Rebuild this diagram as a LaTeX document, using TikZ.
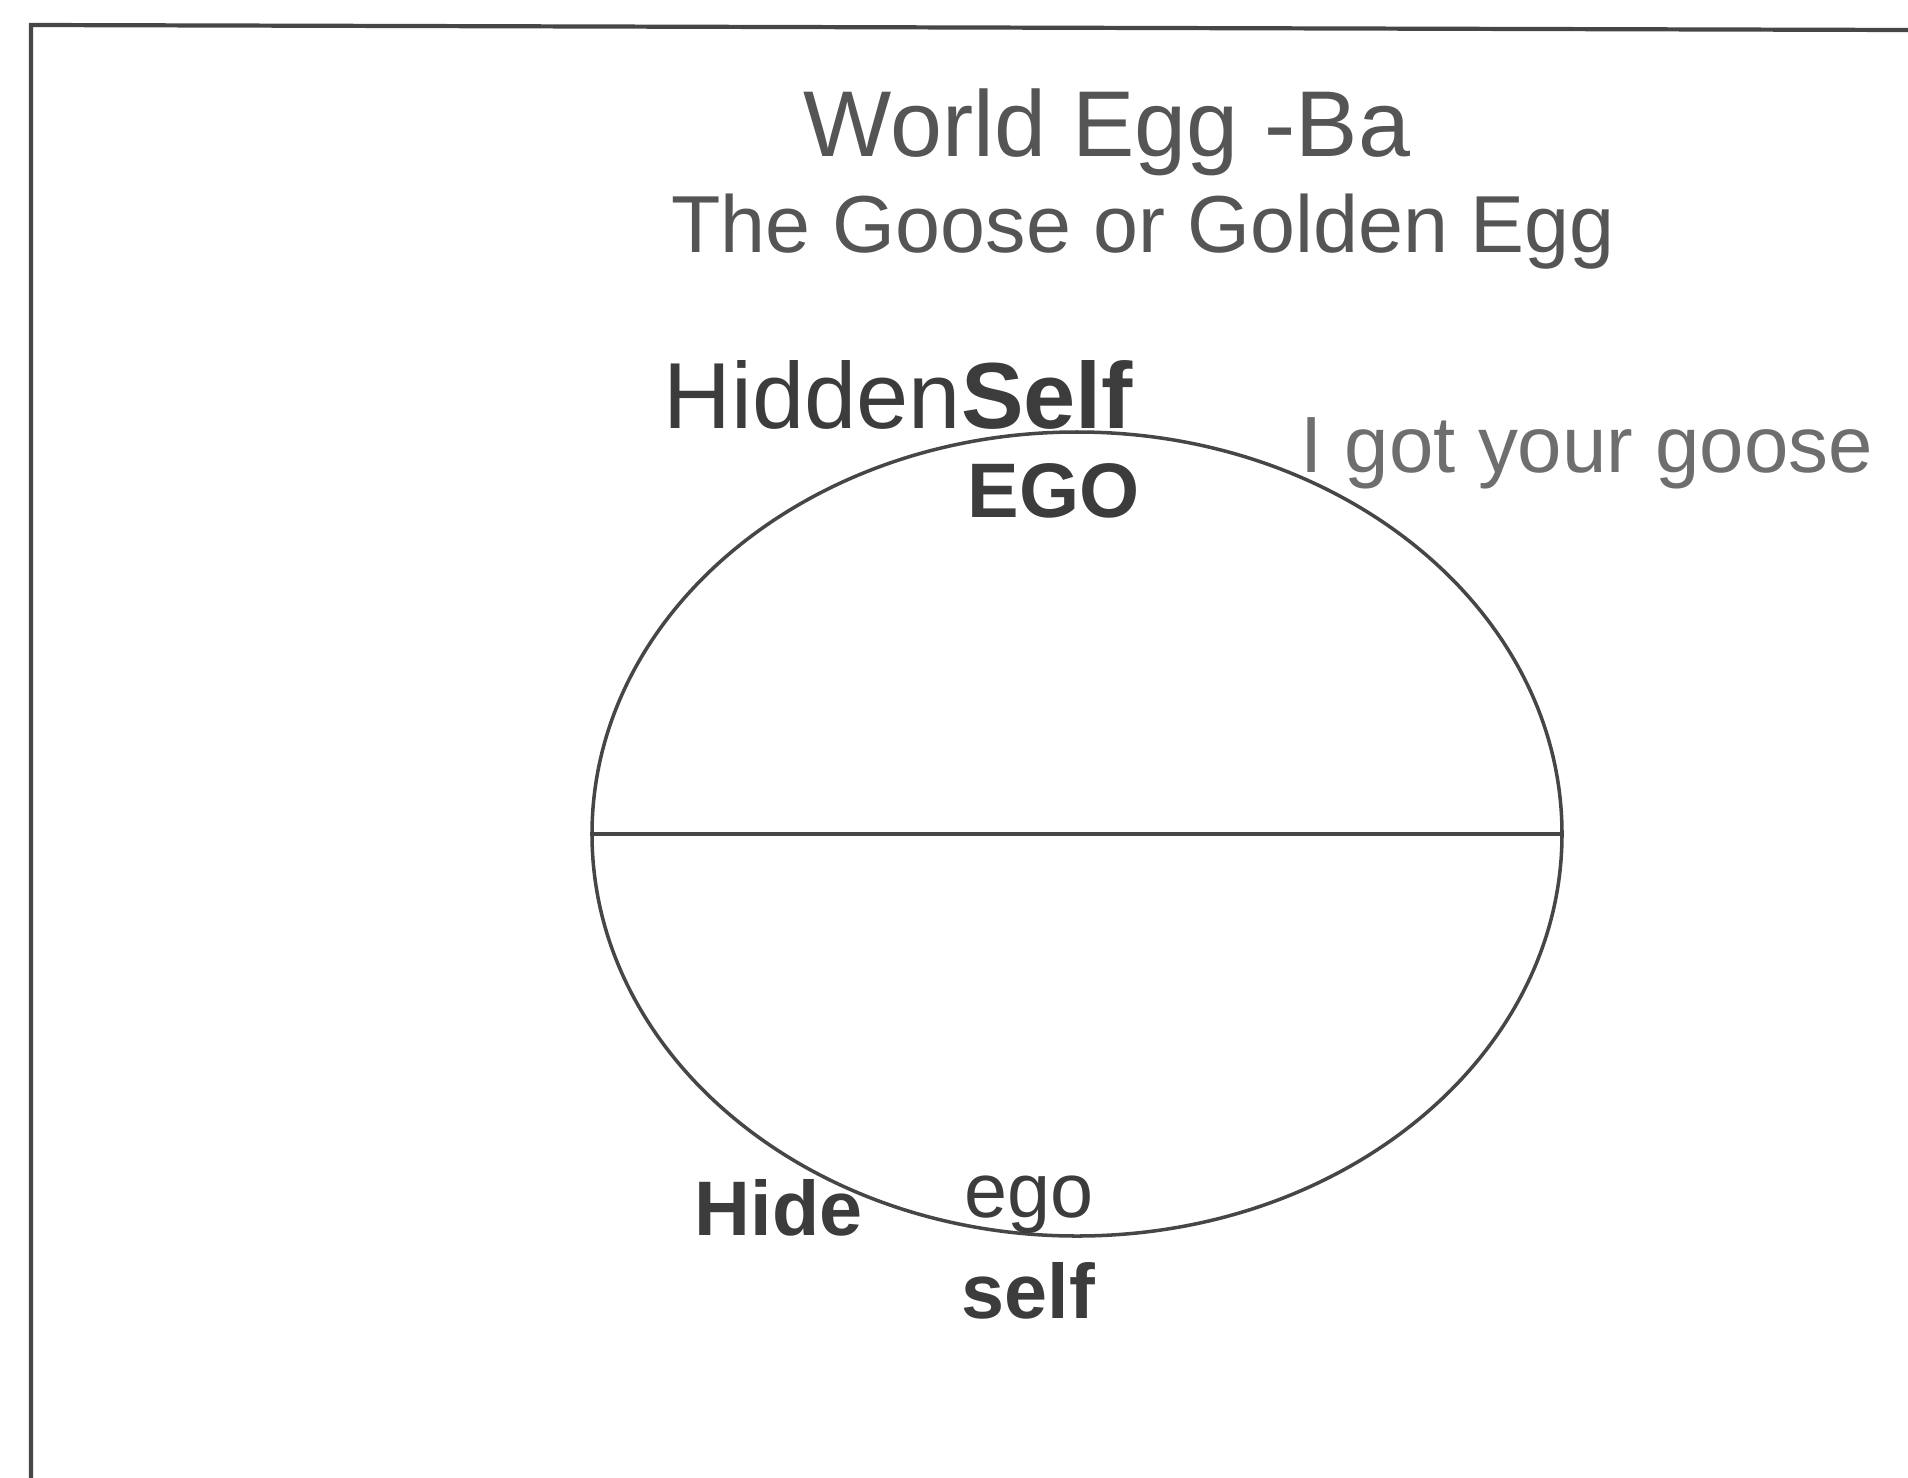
\documentclass[tikz,border=0pt]{standalone}
\usepackage{fontspec}
\setmainfont{Liberation Sans}
\usetikzlibrary{shapes.geometric, positioning}
\definecolor{inkline}{RGB}{70, 70, 70}
\definecolor{inktitle}{RGB}{85, 85, 85}
\definecolor{inkdark}{RGB}{60, 60, 60}
\definecolor{inksoft}{RGB}{110, 110, 110}

\begin{document}
\begin{tikzpicture}[
	% Styles for the frame and the egg
	frameline/.style={draw=inkline, line width=1.2pt},
	eggshape/.style={ellipse, draw=inkline, line width=1pt, inner sep=0pt, minimum width=9.7cm, minimum height=8.04cm},
	% Styles for text
	titletext/.style={text=inktitle, inner sep=0pt, anchor=base, font=\fontsize{26.6}{30}\selectfont},
	subtext/.style={text=inktitle, inner sep=0pt, anchor=base, font=\fontsize{23}{28}\selectfont},
	labeltext/.style={text=inkdark, inner sep=0pt, anchor=base west, font=\fontsize{22}{26}\selectfont}
	]
	\useasboundingbox (0, 0) rectangle (19.08, -14.78);
	
	% ==========================================
	% FRAME (open to the right and below)
	% ==========================================
	\coordinate (frametl) at (0.31, -0.25);
	\coordinate (framebl) at (0.31, -14.78);
	\coordinate (frametr) at (19.08, -0.30);
	\draw[frameline] (framebl) -- (frametl) -- (frametr);
	
	% ==========================================
	% TITLE
	% ==========================================
	\node[titletext] (title) at (11.07, -1.56) {World Egg -Ba};
	\node[subtext] (subtitle) at (11.43, -2.52) {The Goose or Golden Egg};
	
	% ==========================================
	% THE EGG
	% ==========================================
	\node[eggshape] (egg) at (10.77, -8.34) {};
	\draw[draw=inkline, line width=1pt] (egg.west) -- (egg.east);
	
	% Labels round the top
	\node[labeltext, font=\fontsize{26.7}{30}\selectfont] (hidden) at (6.63, -4.28) {Hidden\textbf{Self}};
	\node[labeltext] (ego) at (9.67, -5.17) {\textbf{EGO}};
	\node[labeltext, text=inksoft, font=\fontsize{22.7}{26}\selectfont] (goose) at (13.00, -4.72) {I got your goose};
	
	% Labels round the bottom
	\node[labeltext] (hide) at (6.94, -12.35) {\textbf{Hide}};
	\node[labeltext] (lowego) at (9.64, -12.17) {ego};
	\node[labeltext] (lowself) at (9.61, -13.18) {\textbf{self}};
	
\end{tikzpicture}
\end{document}
